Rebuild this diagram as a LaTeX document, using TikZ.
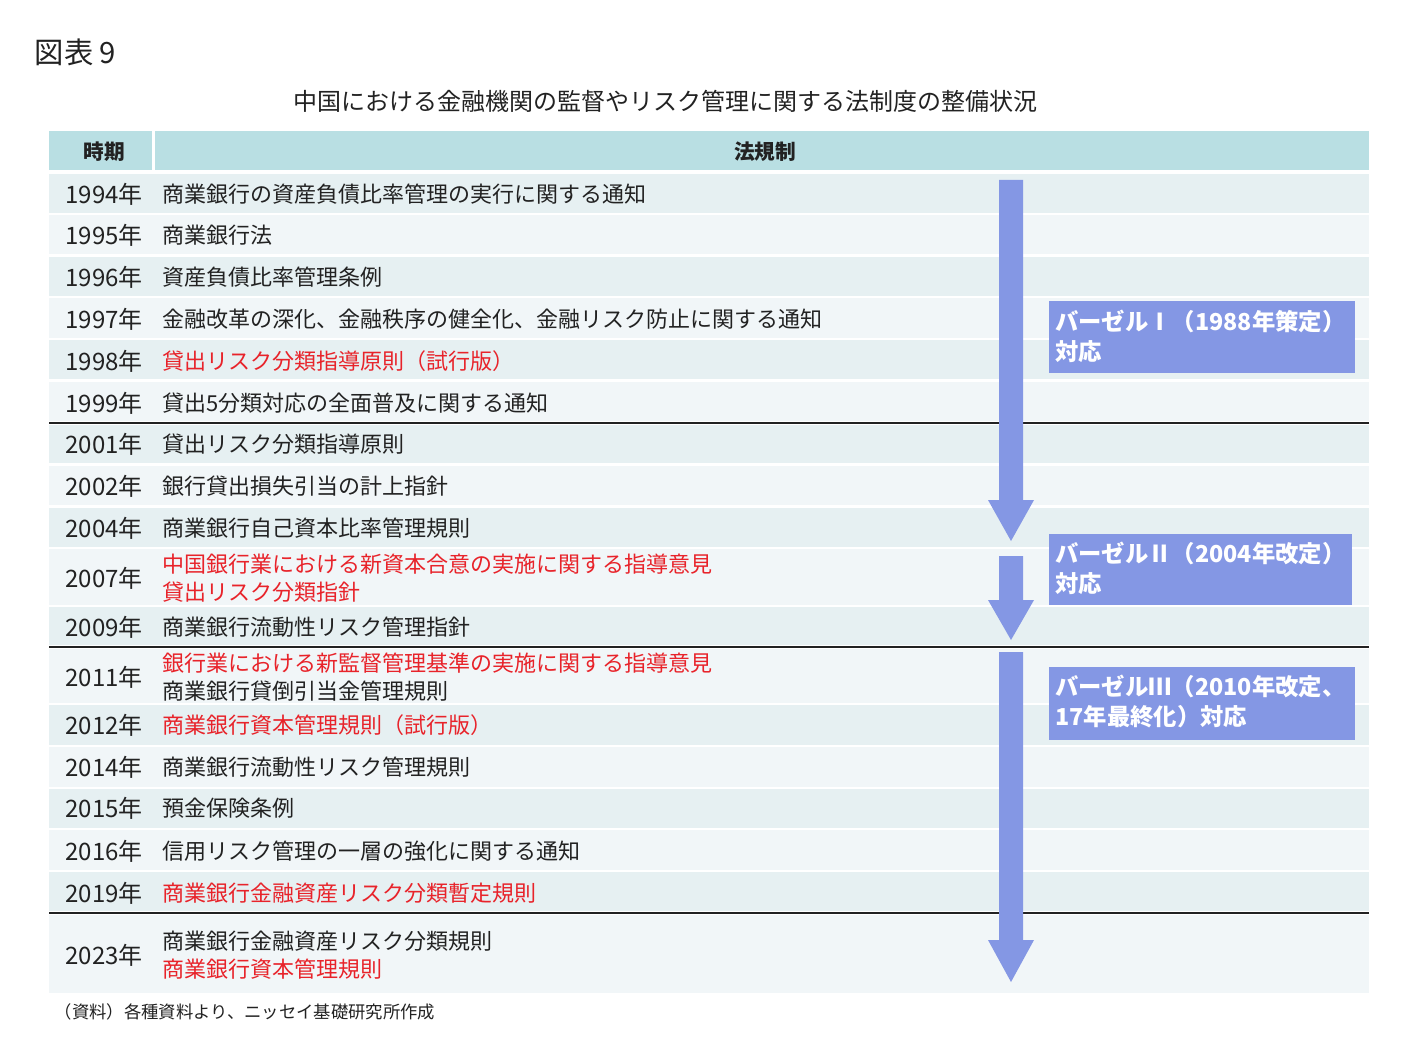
\documentclass[tikz,border=0pt]{standalone}
\usepackage{fontspec}
\setmainfont{Noto Sans CJK JP}
\newfontfamily\jpl{Noto Sans CJK JP}
\definecolor{hdr}{HTML}{B9DFE3}
\definecolor{rowa}{HTML}{E6F0F2}
\definecolor{rowb}{HTML}{F1F6F8}
\definecolor{blu}{HTML}{8497E4}
\definecolor{rd}{HTML}{E8232A}
\definecolor{tx}{HTML}{222222}
\begin{document}
\begin{tikzpicture}[x=0.75pt,y=-0.75pt,
  yr/.style={anchor=center,font=\fontsize{18}{20}\selectfont,text=tx},
  lw/.style={anchor=west,font=\fontsize{16.5}{21}\selectfont,text=tx,align=left,inner sep=0},
  red/.style={text=rd},
  bbox/.style={fill=blu,draw=none,text=white,anchor=north west,font=\fontsize{17.5}{22}\selectfont\bfseries,align=left,inner sep=0},
  arr/.style={fill=blu,draw=none}]
\useasboundingbox (0,0) rectangle (1416,1055);
\fill[white] (0,0) rectangle (1416,1055);
\node[anchor=west,font=\fontsize{22}{24}\selectfont,text=tx] (fig) at (30,52) {図表 9};
\node[font=\fontsize{18}{20}\selectfont,text=tx] (title) at (665,101) {中国における金融機関の監督やリスク管理に関する法制度の整備状況};
\fill[hdr] (49,131) rectangle (152,170);
\fill[hdr] (155,131) rectangle (1369,170);
\node[font=\fontsize{15.5}{18}\selectfont\bfseries,text=tx] (h1) at (104,152) {時期};
\node[font=\fontsize{15.5}{18}\selectfont\bfseries,text=tx] (h2) at (765,152) {法規制};
\foreach \a/\b/\c [count=\i] in {174/213/rowa,215/254/rowb,257/296/rowa,298/338/rowb,340/379/rowa,382/421/rowb,425/463/rowa,466/505/rowb,508/547/rowa,549/605/rowb,607/645/rowa,649/703/rowb,705/745/rowa,747/787/rowb,789/828/rowa,830/870/rowb,872/911/rowa,915/993/rowb}{
  \fill[\c] (49,\a) rectangle (1369,\b);}
\draw[line width=1.5pt,tx] (49,423) -- (1369,423);
\draw[line width=1.5pt,tx] (49,647) -- (1369,647);
\draw[line width=1.5pt,tx] (49,913) -- (1369,913);
% rows
\foreach \y/\t/\l/\s in {
194/1994年/商業銀行の資産負債比率管理の実行に関する通知/,
235/1995年/商業銀行法/,
277/1996年/資産負債比率管理条例/,
319/1997年/金融改革の深化、金融秩序の健全化、金融リスク防止に関する通知/,
361/1998年/貸出リスク分類指導原則（試行版）/red,
403/1999年/貸出5分類対応の全面普及に関する通知/,
444/2001年/貸出リスク分類指導原則/,
486/2002年/銀行貸出損失引当の計上指針/,
528/2004年/商業銀行自己資本比率管理規則/,
627/2009年/商業銀行流動性リスク管理指針/,
725/2012年/商業銀行資本管理規則（試行版）/red,
767/2014年/商業銀行流動性リスク管理規則/,
808/2015年/預金保険条例/,
851/2016年/信用リスク管理の一層の強化に関する通知/,
893/2019年/商業銀行金融資産リスク分類暫定規則/red}{
  \node[yr] at (104,\y) {\t};
  \node[lw,\s] at (162,\y) {\l};}
\node[yr] (y2007) at (104,578) {2007年};
\node[lw] (l2007) at (162,578) {\textcolor{rd}{中国銀行業における新資本合意の実施に関する指導意見}\\\textcolor{rd}{貸出リスク分類指針}};
\node[yr] (y2011) at (104,677) {2011年};
\node[lw] (l2011) at (162,677) {\textcolor{rd}{銀行業における新監督管理基準の実施に関する指導意見}\\商業銀行貸倒引当金管理規則};
\node[yr] (y2023) at (104,955) {2023年};
\node[lw] (l2023) at (162,955) {商業銀行金融資産リスク分類規則\\\textcolor{rd}{商業銀行資本管理規則}};
% arrows
\fill[arr] (999,180) -- (1023,180) -- (1023,500) -- (1034,500) -- (1011,541) -- (988,500) -- (999,500) -- cycle;
\fill[arr] (999,556) -- (1023,556) -- (1023,600) -- (1034,600) -- (1011,640) -- (988,600) -- (999,600) -- cycle;
\fill[arr] (999,652) -- (1023,652) -- (1023,940) -- (1034,940) -- (1011,982) -- (988,940) -- (999,940) -- cycle;
\fill[blu] (1049,301) rectangle (1355,373);
\node[bbox,fill=none] (b1) at (1055,310) {バーゼルⅠ（1988年策定）\\対応};
\fill[blu] (1049,534) rectangle (1352,605);
\node[bbox,fill=none] (b2) at (1055,542) {バーゼルⅡ（2004年改定）\\対応};
\fill[blu] (1049,667) rectangle (1355,740);
\node[bbox,fill=none] (b3) at (1055,675) {バーゼルⅢ（2010年改定、\\17年最終化）対応};
\node[anchor=west,font=\fontsize{13}{15}\selectfont,text=tx] (src) at (50,1012) {（資料）各種資料より、ニッセイ基礎研究所作成};
\end{tikzpicture}
\end{document}
